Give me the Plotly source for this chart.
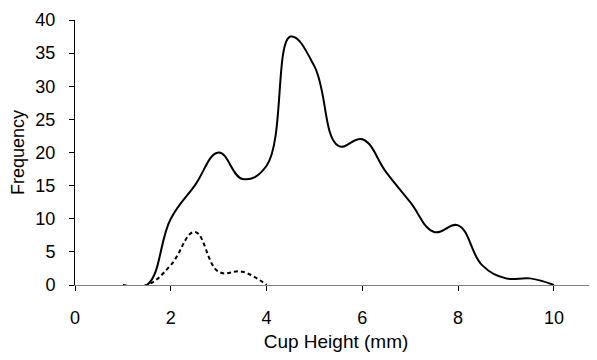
import plotly.graph_objects as go

cup_height = [1.0, 1.5, 2.0, 2.5, 3.0, 3.5, 4.0, 4.5, 5.0, 5.5, 6.0, 6.5, 7.0, 7.5, 8.0, 8.5, 9.0, 9.5, 10.0]
freq_solid = [0, 0, 10, 15, 20, 16, 18, 37.5, 33, 21, 22, 17, 12.5, 8, 9, 3, 1, 1, 0]
dash_height = [1.0, 1.5, 2.0, 2.5, 3.0, 3.5, 4.0]
freq_dashed = [0, 0, 3, 8, 2, 2, 0]
x_ticks = [0, 2, 4, 6, 8, 10]
y_ticks = [0, 5, 10, 15, 20, 25, 30, 35, 40]

fig = go.Figure()
fig.add_trace(go.Scatter(x=cup_height, y=freq_solid, mode="lines",
                         line=dict(color="black", width=2, shape="spline", smoothing=1.2),
                         showlegend=False))
fig.add_trace(go.Scatter(x=dash_height, y=freq_dashed, mode="lines",
                         line=dict(color="black", width=2, shape="spline", smoothing=1.2,
                                   dash="4px,3px"),
                         showlegend=False))

fam = "Liberation Sans, Arial, sans-serif"
tick_font = dict(family=fam, size=18, color="black")
fig.update_layout(
    width=589, height=352,
    margin=dict(l=67, r=0, t=12, b=75),
    plot_bgcolor="white", paper_bgcolor="white",
    font=tick_font,
    xaxis=dict(range=[0, 10.9], tickvals=x_ticks, ticks="outside", ticklen=5,
               tickcolor="black", showline=True, linecolor="#808080", linewidth=1,
               showgrid=False, zeroline=False, tickfont=tick_font,
               ticklabelstandoff=11,
               title=dict(text="Cup Height (mm)", font=dict(family=fam, size=19, color="black"),
                          standoff=8)),
    yaxis=dict(range=[0, 40], tickvals=y_ticks, ticks="outside", ticklen=5,
               tickcolor="black", showline=True, linecolor="black", linewidth=1,
               showgrid=False, zeroline=False, tickfont=tick_font,
               ticklabelstandoff=10,
               title=dict(text="Frequency", font=dict(family=fam, size=18, color="black"),
                          standoff=7)),
)
fig.write_html("out.html")
